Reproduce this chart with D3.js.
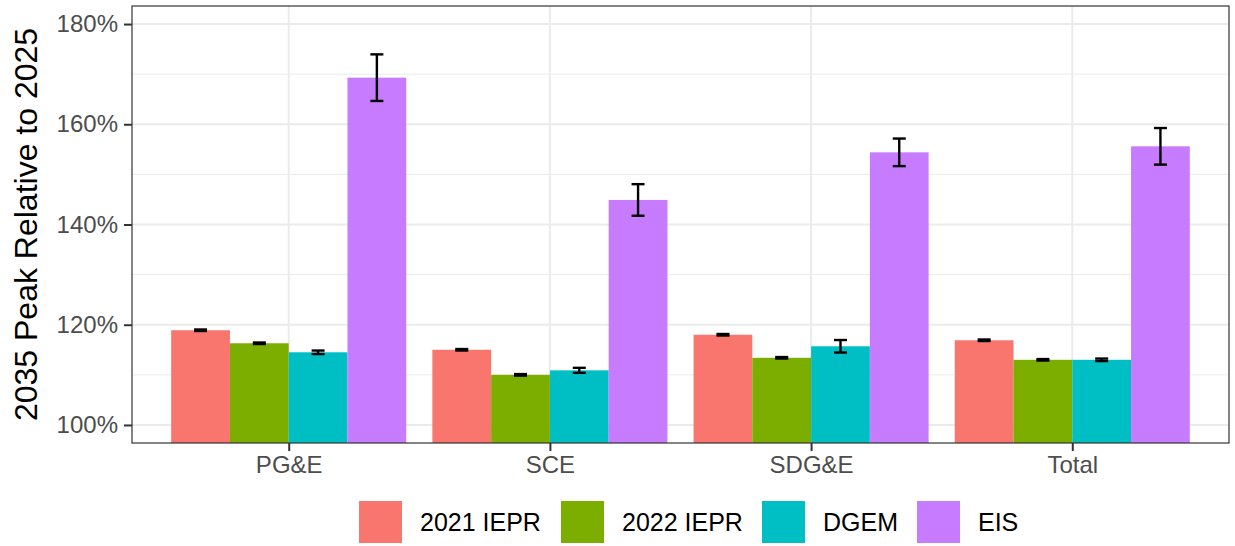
<!DOCTYPE html>
<html>
<head>
<meta charset="utf-8">
<script src="https://cdn.jsdelivr.net/npm/d3@7"></script>
<style>
  body { margin: 0; background: #fff; }
  text { font-family: "Liberation Sans", Arial, sans-serif; }
</style>
</head>
<body>
<div id="chart"></div>
<script>
const regions = ["PG&E", "SCE", "SDG&E", "Total"];
const series = ["2021 IEPR", "2022 IEPR", "DGEM", "EIS"];
const colors = ["#F8766D", "#7CAE00", "#00BFC4", "#C77CFF"];

// value (%) and half-width of error bar, one array per series, in region order
const iepr2021 = [118.9, 115.0, 118.0, 116.9];
const iepr2021Err = [0.15, 0.15, 0.15, 0.15];
const iepr2022 = [116.3, 110.0, 113.4, 113.0];
const iepr2022Err = [0.15, 0.15, 0.15, 0.15];
const dgem = [114.5, 110.9, 115.7, 113.0];
const dgemErr = [0.35, 0.5, 1.25, 0.25];
const eis = [169.3, 144.9, 154.4, 155.6];
const eisErr = [4.65, 3.15, 2.75, 3.65];

const yTicks = [100, 120, 140, 160, 180];
const yMinor = [110, 130, 150, 170];

const valuesBySeries = [iepr2021, iepr2022, dgem, eis];
const errBySeries = [iepr2021Err, iepr2022Err, dgemErr, eisErr];

const data = [];
regions.forEach((r, i) => {
  series.forEach((s, j) => {
    data.push({ region: r, series: s, value: valuesBySeries[j][i], err: errBySeries[j][i], idx: j });
  });
});

const W = 1235, H = 546;
const margin = { left: 132, right: 6, top: 6, bottom: 103 };
const pw = W - margin.left - margin.right;
const ph = H - margin.top - margin.bottom;

const svg = d3.select("#chart").append("svg")
  .attr("width", W)
  .attr("height", H);

const g = svg.append("g").attr("transform", `translate(${margin.left},${margin.top})`);

// discrete scale with ggplot style expansion (0.6 units each side)
const x = d3.scalePoint().domain(regions).range([0, pw]).padding(0.6);
const step = x.step();
const barW = step * 0.9 / series.length;

const y = d3.scaleLinear().domain([96.4, 183.6]).range([ph, 0]);

// grid
g.selectAll(".minor").data(yMinor).enter().append("line")
  .attr("x1", 0).attr("x2", pw)
  .attr("y1", d => y(d)).attr("y2", d => y(d))
  .attr("stroke", "#EBEBEB").attr("stroke-width", 1);

g.selectAll(".major").data(yTicks).enter().append("line")
  .attr("x1", 0).attr("x2", pw)
  .attr("y1", d => y(d)).attr("y2", d => y(d))
  .attr("stroke", "#EBEBEB").attr("stroke-width", 2);

g.selectAll(".vmajor").data(regions).enter().append("line")
  .attr("x1", d => x(d)).attr("x2", d => x(d))
  .attr("y1", 0).attr("y2", ph)
  .attr("stroke", "#EBEBEB").attr("stroke-width", 2);

// bars
const barX = d => x(d.region) - step * 0.45 + d.idx * barW;

g.selectAll(".bar").data(data).enter().append("rect")
  .attr("x", barX)
  .attr("width", barW)
  .attr("y", d => y(d.value))
  .attr("height", d => ph - y(d.value))
  .attr("fill", d => colors[d.idx]);

// error bars
const capW = 13;
const eb = g.selectAll(".err").data(data).enter().append("g")
  .attr("stroke", "#000").attr("stroke-width", 2.4);
eb.append("line")
  .attr("x1", d => barX(d) + barW / 2).attr("x2", d => barX(d) + barW / 2)
  .attr("y1", d => y(d.value + d.err)).attr("y2", d => y(d.value - d.err));
eb.append("line")
  .attr("x1", d => barX(d) + barW / 2 - capW / 2).attr("x2", d => barX(d) + barW / 2 + capW / 2)
  .attr("y1", d => y(d.value + d.err)).attr("y2", d => y(d.value + d.err));
eb.append("line")
  .attr("x1", d => barX(d) + barW / 2 - capW / 2).attr("x2", d => barX(d) + barW / 2 + capW / 2)
  .attr("y1", d => y(d.value - d.err)).attr("y2", d => y(d.value - d.err));

// panel border
g.append("rect")
  .attr("width", pw).attr("height", ph)
  .attr("fill", "none").attr("stroke", "#333333").attr("stroke-width", 1.2);

// axes
const yAxis = g.append("g")
  .call(d3.axisLeft(y).tickValues(yTicks).tickSize(8).tickPadding(6).tickFormat(d => d + "%"));
yAxis.select(".domain").remove();
yAxis.selectAll(".tick line").attr("stroke", "#333333").attr("stroke-width", 2);
yAxis.selectAll(".tick text").attr("fill", "#4D4D4D").style("font-size", "24px")
  .style("font-family", "'Liberation Sans', Arial, sans-serif");

const xAxis = g.append("g").attr("transform", `translate(0,${ph})`)
  .call(d3.axisBottom(x).tickSize(8).tickPadding(5));
xAxis.select(".domain").remove();
xAxis.selectAll(".tick line").attr("stroke", "#333333").attr("stroke-width", 2);
xAxis.selectAll(".tick text").attr("fill", "#4D4D4D").style("font-size", "24px")
  .style("font-family", "'Liberation Sans', Arial, sans-serif");

// y title
svg.append("text")
  .attr("transform", `translate(37,${margin.top + ph / 2}) rotate(-90)`)
  .attr("text-anchor", "middle")
  .style("font-size", "32px")
  .attr("fill", "#000")
  .text("2035 Peak Relative to 2025");

// legend
const legendX = [359, 561, 762, 917];
const leg = svg.selectAll(".leg").data(series).enter().append("g")
  .attr("transform", (d, i) => `translate(${legendX[i]},501)`);
leg.append("rect")
  .attr("width", 43).attr("height", 42)
  .attr("fill", (d, i) => colors[i]);
leg.append("text")
  .attr("x", 61).attr("y", 30)
  .style("font-size", "25px")
  .attr("fill", "#000")
  .text(d => d);
</script>
</body>
</html>
